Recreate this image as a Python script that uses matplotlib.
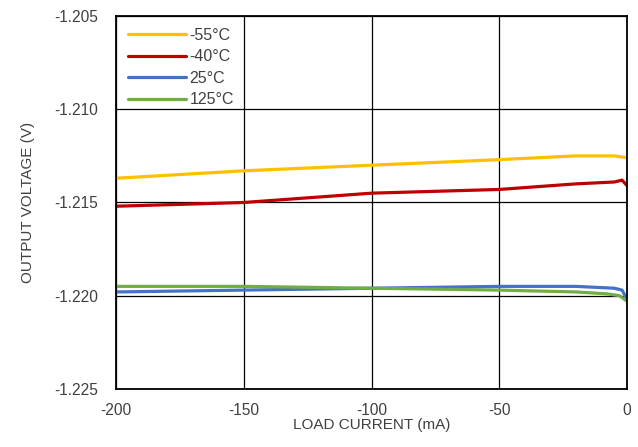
import matplotlib
matplotlib.use("Agg")
from matplotlib import pyplot as plt

plt.rcParams['font.family'] = ['Liberation Sans', 'DejaVu Sans']
plt.rcParams['axes.unicode_minus'] = False

# load current (mA) and output voltage (V) per temperature
x_55 = [-200, -150, -100, -50, -20, -5, 0]
y_55 = [-1.2137, -1.2133, -1.2130, -1.2127, -1.2125, -1.2125, -1.2126]

x_40 = [-200, -150, -100, -50, -20, -5, -2, 0]
y_40 = [-1.2152, -1.2150, -1.2145, -1.2143, -1.2140, -1.2139, -1.2138, -1.2141]

x_25 = [-200, -150, -100, -50, -20, -5, -2, 0]
y_25 = [-1.2198, -1.2197, -1.2196, -1.2195, -1.2195, -1.2196, -1.2197, -1.2202]

x_125 = [-200, -150, -100, -50, -20, -8, -3, 0]
y_125 = [-1.2195, -1.2195, -1.2196, -1.2197, -1.2198, -1.2199, -1.2200, -1.2203]

labels = ["-55°C", "-40°C", "25°C", "125°C"]
colors = ["#FFC000", "#C00000", "#4472C4", "#70AD47"]


def main():
    fig = plt.figure(figsize=(6.38, 4.47), dpi=100)
    ax = fig.add_axes([0.182, 0.13, 0.801, 0.834])

    series = [(x_55, y_55), (x_40, y_40), (x_25, y_25), (x_125, y_125)]
    for (xs, ys), label, color in zip(series, labels, colors):
        ax.plot(xs, ys, color=color, linewidth=2.3, label=label, solid_capstyle='round')

    ax.set_xlim(-200, 0)
    ax.set_ylim(-1.225, -1.205)
    ax.set_xticks([-200, -150, -100, -50, 0])
    ax.set_yticks([-1.225, -1.220, -1.215, -1.210, -1.205])
    ax.set_yticklabels(["%.3f" % v for v in ax.get_yticks()])
    ax.grid(True, color='black', linewidth=0.9)
    ax.tick_params(length=0, labelsize=11.2, colors='#404040')
    ax.tick_params(axis='y', pad=13)
    ax.tick_params(axis='x', pad=10)
    for spine in ax.spines.values():
        spine.set_linewidth(1.3)

    ax.set_xlabel("LOAD CURRENT (mA)", fontsize=11, color='#404040', labelpad=0)
    ax.set_ylabel("OUTPUT VOLTAGE (V)", fontsize=11, color='#404040', labelpad=14)

    leg = ax.legend(loc='upper left', frameon=False, fontsize=11.5, handlelength=3.6,
                    handletextpad=0.25, labelspacing=0.4, borderaxespad=0.35)
    for text in leg.get_texts():
        text.set_color('#404040')

    plt.savefig('out.png', dpi=100)
    plt.close()


if __name__ == "__main__":
    main()
